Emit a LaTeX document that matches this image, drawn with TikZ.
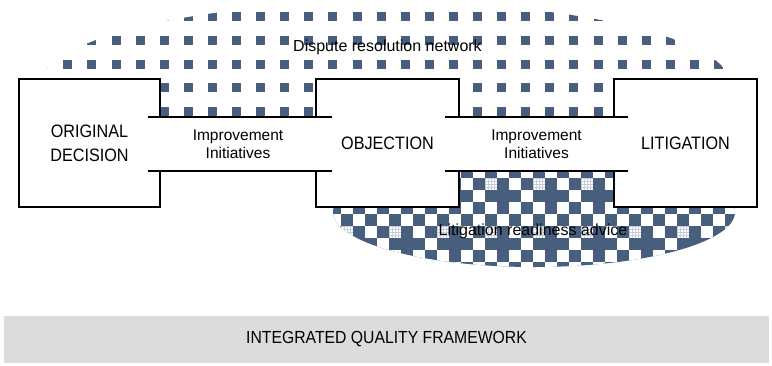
\documentclass[tikz,border=0pt]{standalone}
\usepackage{fontspec}
\setmainfont{Liberation Sans}
\newfontfamily\capsfont[FakeStretch=0.9]{Liberation Sans}
\definecolor{slate}{HTML}{485E7E}
\definecolor{barfill}{HTML}{DCDCDC}

\begin{document}
\begin{tikzpicture}[x=1pt,y=-1pt,
  block/.style={fill=white, inner sep=0pt, outer sep=0pt, minimum height=128pt,
    align=center, font=\capsfont\fontsize{18}{24}\selectfont},
  band/.style={fill=white, inner sep=0pt, outer sep=0pt, minimum height=54pt,
    align=center, font=\fontsize{15.5}{18}\selectfont},
  outline/.style={draw=black, line width=1.4pt},
  tag/.style={inner sep=0pt, font=\fontsize{16}{19}\selectfont},
  bar/.style={fill=barfill, inner sep=0pt, outer sep=0pt,
    font=\capsfont\fontsize{17.5}{20}\selectfont}
]
\useasboundingbox (0,0) rectangle (772,365);

% dispute resolution network: ellipse of square dots
\begin{scope}
  \clip (386,85) ellipse [x radius=345, y radius=83];
  \foreach \r in {0,...,5} {
    \foreach \c in {-1,...,28} {
      \fill[slate] ({63.3+24.1*\c},{11.7+23.9*\r}) rectangle ++(9,9);
    }
  }
\end{scope}

% litigation readiness advice: checkered ellipse with dark crosses
\begin{scope}
  \clip (534,212) ellipse [x radius=201, y radius=55];
  \fill[slate] (320,150) rectangle (740,275);
  \foreach \r in {0,...,8} {
    \foreach \c in {-1,...,33} {
      \pgfmathtruncatemacro\odd{mod(\c+\r+100,2)}
      \pgfmathtruncatemacro\cross{(mod(\r+100,4)==2)&&(mod(\c+100,4)==1)}
      \ifnum\odd=1 \ifnum\cross=0
        \fill[white] ({341+12*\c},{166+12*\r}) rectangle ++(12,12);
      \fi\fi
    }
  }
  % light stippled cells
  \foreach \r in {1,5} {
    \foreach \c in {0,4,...,32} {
      \fill[slate!30] ({341+12*\c},{166+12*\r}) rectangle ++(12,12);
      \foreach \i in {0,...,3} {
        \foreach \j in {0,...,3} {
          \fill[white] ({341+12*\c+1+3*\i},{166+12*\r+1+3*\j}) rectangle ++(1.5,1.5);
        }
      }
    }
  }
\end{scope}

% stages
\node[block, minimum width=141pt] (od) at (89.5,143) {ORIGINAL\\DECISION};
\node[block, minimum width=143pt] (ob) at (387.5,143) {OBJECTION};
\node[block, minimum width=143pt] (lt) at (685.5,143) {LITIGATION};

% links between stages
\node[band, minimum width=156pt] (i1) at (238,144) {Improvement\\Initiatives};
\node[band, minimum width=155pt] (i2) at (536.5,144) {Improvement\\Initiatives};

% outlines, open where a link enters
\draw[outline] (i1.north -| od.east) -- (od.north east) -- (od.north west)
  -- (od.south west) -- (od.south east) -- (i1.south -| od.east);
\draw[outline] (i1.north -| ob.west) -- (ob.north west) -- (ob.north east)
  -- (i2.north -| ob.east);
\draw[outline] (i2.south -| ob.east) -- (ob.south east) -- (ob.south west)
  -- (i1.south -| ob.west);
\draw[outline] (i2.north -| lt.west) -- (lt.north west) -- (lt.north east)
  -- (lt.south east) -- (lt.south west) -- (i2.south -| lt.west);

\draw[outline] ([xshift=-12pt]i1.north west) -- ([xshift=16pt]i1.north east);
\draw[outline] ([xshift=-12pt]i1.south west) -- ([xshift=16pt]i1.south east);
\draw[outline] ([xshift=-14pt]i2.north west) -- ([xshift=14pt]i2.north east);
\draw[outline] ([xshift=-14pt]i2.south west) -- ([xshift=14pt]i2.south east);

% region labels
\node[tag] (drn) at (387.5,47.5) {Dispute resolution network};
\node[tag] (lra) at (533,231) {Litigation readiness advice};

% framework bar
\node[bar, minimum width=765pt, minimum height=47pt] (iqf) at (386.5,339.5)
  {INTEGRATED QUALITY FRAMEWORK};
\end{tikzpicture}
\end{document}
